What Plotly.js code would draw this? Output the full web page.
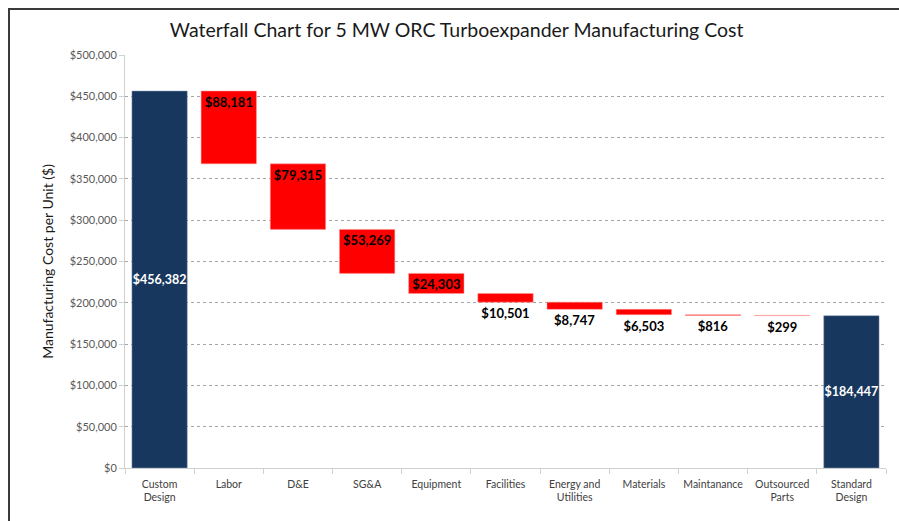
<!DOCTYPE html>
<html>
<head>
<meta charset="utf-8">
<script src="https://cdn.plot.ly/plotly-3.0.1.min.js"></script>
<style>
  html, body { margin: 0; padding: 0; background: #fff; }
  #wrap { position: relative; width: 899px; height: 521px; }
  #chart { position: absolute; left: 0; top: 0; width: 899px; height: 521px; }
  #frame { position: absolute; left: 8px; top: 8px; width: 900px; height: 520px;
           border-top: 2px solid #3a3a3a; border-left: 2px solid #3a3a3a; pointer-events: none; }
</style>
</head>
<body>
<div id="wrap">
  <div id="chart"></div>
  <div id="frame"></div>
</div>
<script>
// ---- data ----
const categories = ["Custom<br>Design", "Labor", "D&E", "SG&A", "Equipment", "Facilities",
                    "Energy and<br>Utilities", "Materials", "Maintanance", "Outsourced<br>Parts", "Standard<br>Design"];
const startTotal = 456382;
const reductions = [88181, 79315, 53269, 24303, 10501, 8747, 6503, 816, 299];
const endTotal = 184447;
const yTickValues = [0, 50000, 100000, 150000, 200000, 250000, 300000, 350000, 400000, 450000, 500000];

// ---- derived ----
const fmt = v => "$" + v.toLocaleString("en-US");
const redCats = categories.slice(1, 10);
const tops = [];
let running = startTotal;
reductions.forEach(v => { tops.push(running); running -= v; });
const redPos = reductions.map((v, i) => i < 4 ? "inside" : "outside");

const FONT = "Lato, 'Liberation Sans', sans-serif";

const totals = {
  type: "bar",
  x: [categories[0], categories[10]],
  y: [startTotal, endTotal],
  text: [fmt(startTotal), fmt(endTotal)],
  textposition: "inside",
  insidetextanchor: "middle",
  textangle: 0,
  constraintext: "none",
  textfont: { color: "#ffffff", size: 12.5, family: FONT, weight: "bold" },
  marker: { color: "#17375E", line: { color: "#8ea0b8", width: 0.5 } },
  hoverinfo: "x+y",
  showlegend: false
};

const drops = {
  type: "bar",
  x: redCats,
  base: tops,
  y: reductions.map(v => -v),
  text: reductions.map(fmt),
  textposition: redPos,
  insidetextanchor: "start",
  textangle: 0,
  constraintext: "none",
  textfont: { color: "#000000", size: 13, family: FONT, weight: "bold" },
  outsidetextfont: { color: "#000000", size: 13, family: FONT, weight: "bold" },
  marker: { color: "#FF0000", line: { color: "#ff9a9a", width: 0.5 } },
  cliponaxis: false,
  hoverinfo: "x+text",
  showlegend: false
};

const layout = {
  width: 899, height: 521,
  margin: { l: 125, r: 13, t: 55, b: 53 },
  paper_bgcolor: "#ffffff",
  plot_bgcolor: "#ffffff",
  barmode: "overlay",
  bargap: 0.2,
  font: { family: FONT, color: "#404040" },
  title: {
    text: "Waterfall Chart for 5 MW ORC Turboexpander Manufacturing Cost",
    font: { family: FONT, size: 19.5, color: "#1a1a1a" },
    x: 0.508, xanchor: "center", y: 0.942, yanchor: "middle"
  },
  xaxis: {
    type: "category",
    categoryorder: "array",
    categoryarray: categories,
    range: [-0.5, 10.5],
    showline: true, linecolor: "#d0d0d0", linewidth: 1,
    ticks: "outside", tickson: "boundaries", ticklen: 5, tickcolor: "#d0d0d0",
    tickangle: 0,
    ticklabelstandoff: 6,
    tickfont: { family: FONT, size: 10.5, color: "#404040" },
    showgrid: false, zeroline: false
  },
  yaxis: {
    range: [0, 500000],
    tickvals: yTickValues,
    tickformat: "$,.0f",
    ticks: "outside", ticklen: 5, tickcolor: "#d0d0d0",
    tickfont: { family: FONT, size: 11, color: "#595959" },
    showline: true, linecolor: "#d0d0d0", linewidth: 1,
    showgrid: true, gridcolor: "#a6a6a6", griddash: "dot", gridwidth: 1,
    zeroline: false,
    title: { text: "Manufacturing Cost per Unit ($)", font: { family: FONT, size: 14, color: "#1a1a1a" }, standoff: 12 }
  }
};

Plotly.newPlot("chart", [totals, drops], layout, { displayModeBar: false, staticPlot: true });
</script>
</body>
</html>
